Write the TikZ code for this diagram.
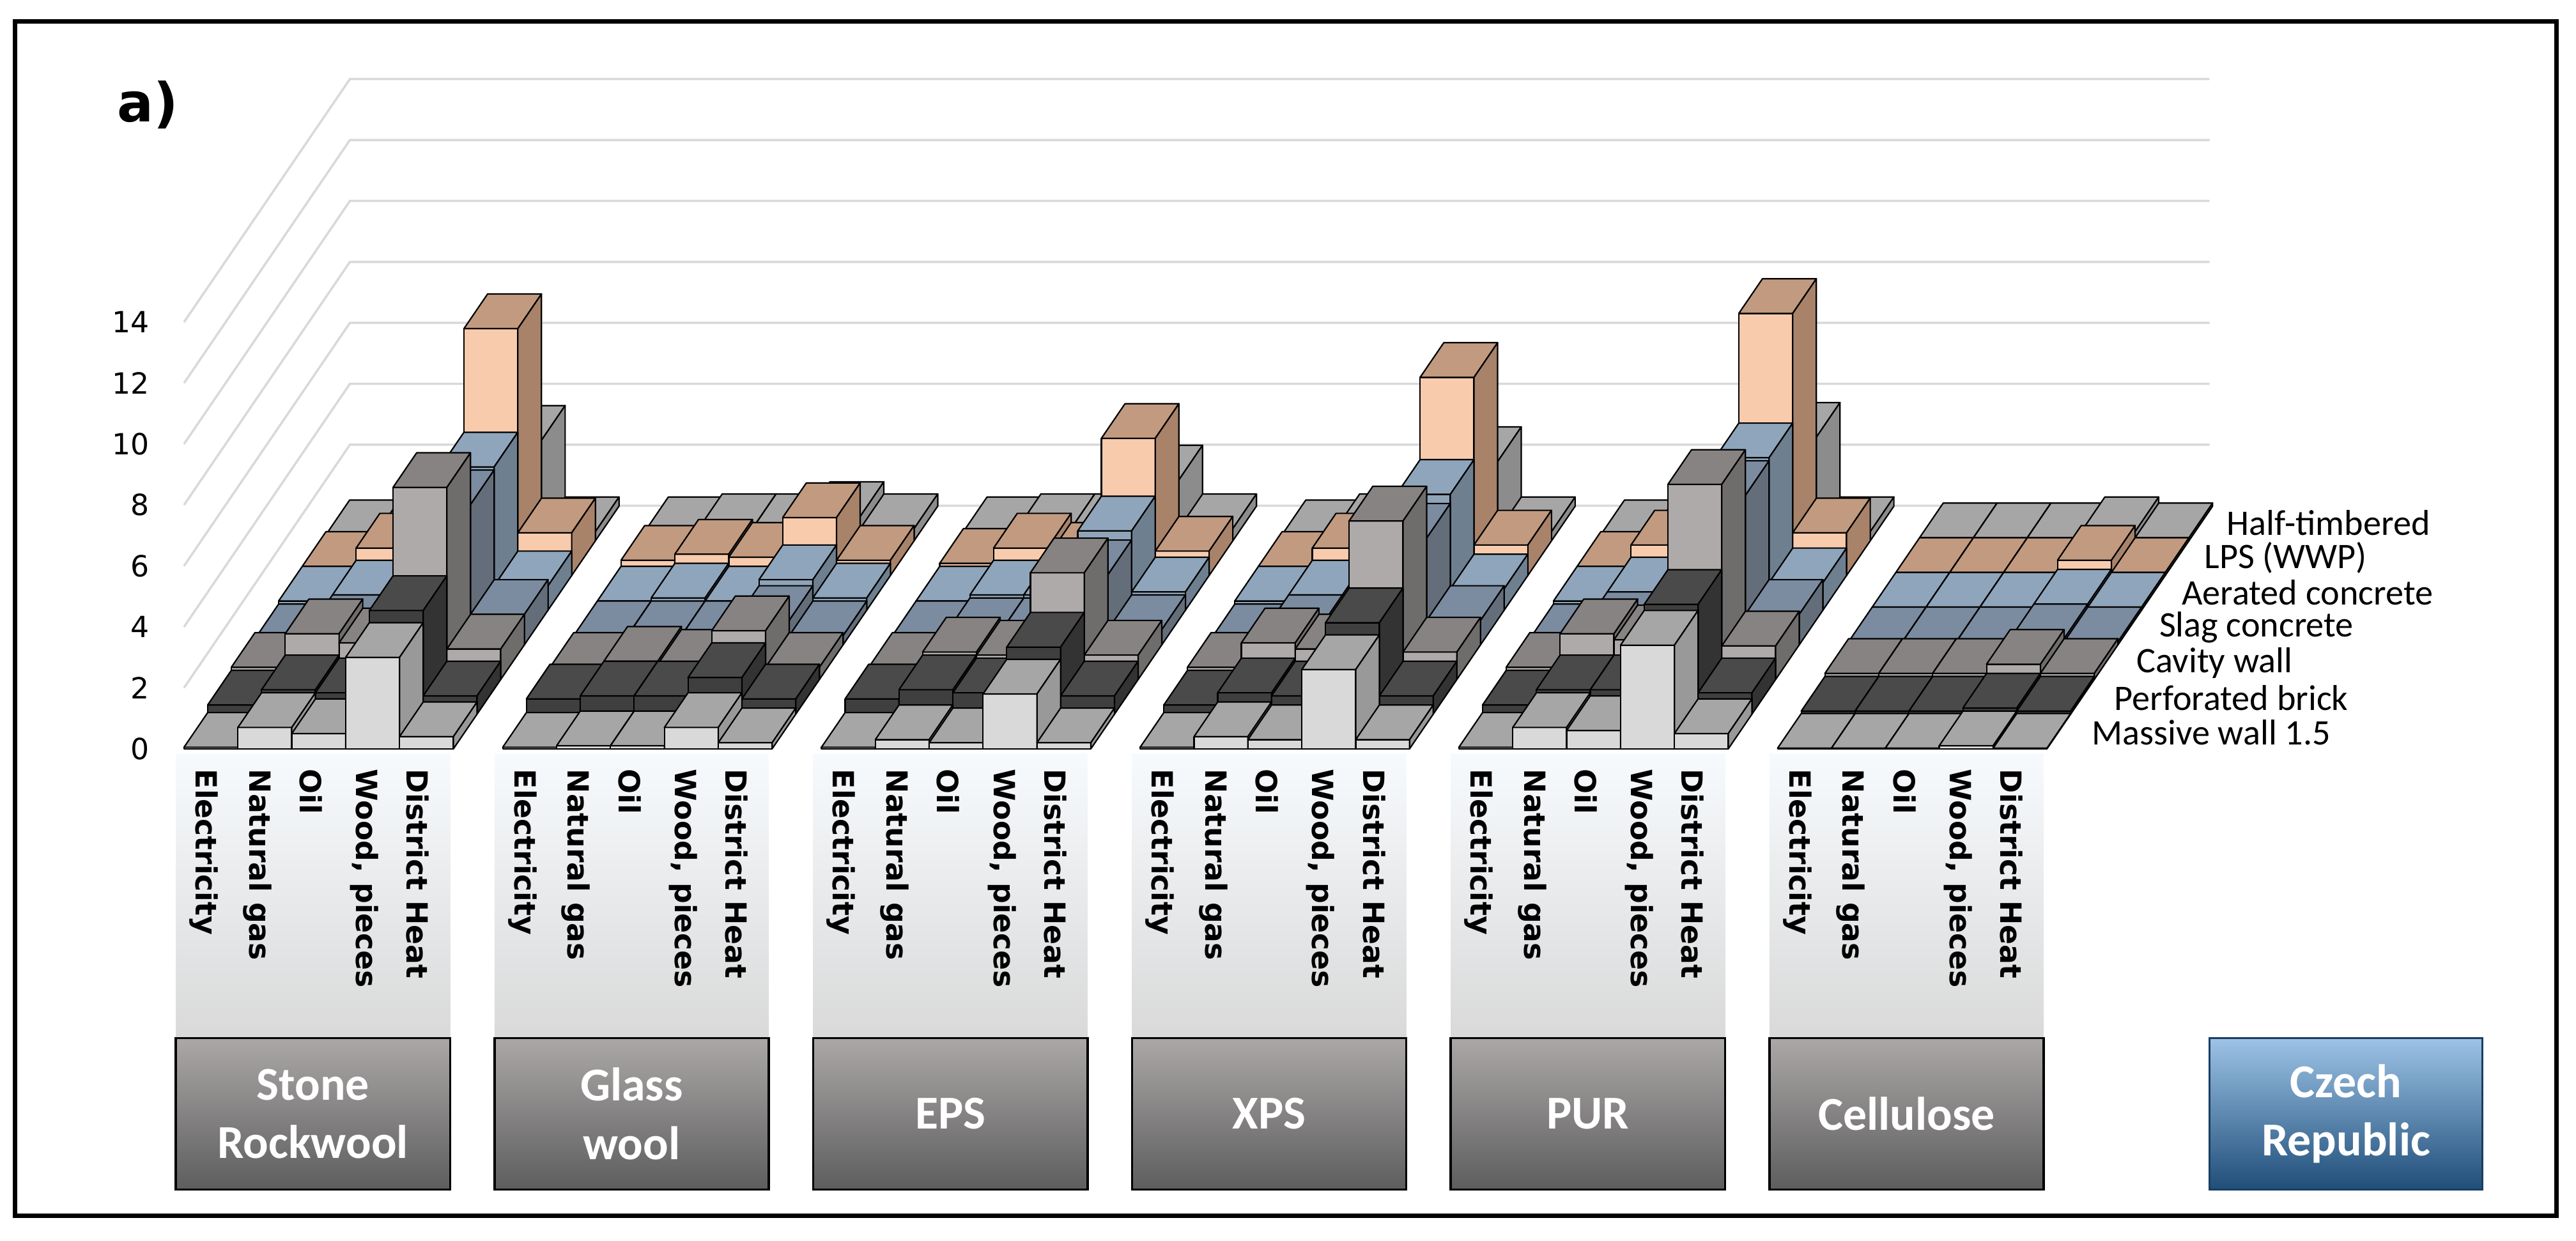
\documentclass[tikz,border=0pt]{standalone}
\usepackage{fontspec}
\setmainfont{Carlito}
\newfontfamily\dvf{DejaVu Sans}
\begin{document}
\begin{tikzpicture}[x=0.2571mm,y=-0.2571mm,
  grid/.style={draw=black!15,line width=0.35mm},
  bar/.style={draw=black,line width=0.22mm,line join=round},
  collab/.style={rotate=-90,anchor=west,font=\dvf\bfseries\fontsize{13}{15}\selectfont,inner sep=0},
  boxlab/.style={text=white,font=\bfseries\fontsize{21}{26}\selectfont,align=center},
  ylab/.style={anchor=east,font=\dvf\fontsize{13}{15}\selectfont,inner sep=0},
  leg/.style={anchor=west,font=\fontsize{16}{18}\selectfont,inner sep=0}]
\definecolor{F0}{HTML}{D9D9D9}\definecolor{T0}{HTML}{A6A6A6}\definecolor{S0}{HTML}{999999}
\definecolor{F1}{HTML}{3F3F3F}\definecolor{T1}{HTML}{4A4A4A}\definecolor{S1}{HTML}{333333}
\definecolor{F2}{HTML}{AEAAAA}\definecolor{T2}{HTML}{878383}\definecolor{S2}{HTML}{6F6C6C}
\definecolor{F3}{HTML}{6F7A88}\definecolor{T3}{HTML}{7B8BA0}\definecolor{S3}{HTML}{646E7B}
\definecolor{F4}{HTML}{8FA4B8}\definecolor{T4}{HTML}{8FA5BB}\definecolor{S4}{HTML}{6E7F90}
\definecolor{F5}{HTML}{F8CBAD}\definecolor{T5}{HTML}{C19A80}\definecolor{S5}{HTML}{A8836A}
\definecolor{F6}{HTML}{C8C8C8}\definecolor{T6}{HTML}{A6A6A6}\definecolor{S6}{HTML}{8C8C8C}
\definecolor{boxT}{HTML}{ABA7A7}\definecolor{boxB}{HTML}{5E5E5E}
\definecolor{czT}{HTML}{9DC3E6}\definecolor{czB}{HTML}{1F4E79}
\definecolor{panT}{HTML}{F7FAFD}\definecolor{panB}{HTML}{D9D9D9}
\useasboundingbox (0,0) rectangle (1568,755.3);
\draw[line width=0.7mm] (9,13) rectangle (1556,740);
\node[font=\dvf\bfseries\fontsize{24}{26}\selectfont,anchor=center] (tag) at (90,64) {a)};
% back wall grid
\foreach \k in {0,...,7}{
  \draw[grid] (112,455.8-37.1*\k) -- (213,307.8-37.1*\k) -- (1345,307.8-37.1*\k);
  \pgfmathtruncatemacro\lab{2*\k}
  \node[ylab] (y\k) at (91,455.8-37.1*\k) {\lab};
}
% data: group, row (front to back), column
\def\data{{0.05,0.7,0.5,3.0,0.4, 0.3,0.8,0.7,3.4,0.6, 0.4,1.5,1.2,6.3,1.0, 0.2,0.5,0.5,4.6,1.0, 0.3,0.5,0.6,4.7,0.8, 0.3,0.9,0.5,8.1,1.4, 0.2,0.4,0.3,3.3,0.3,
0.05,0.1,0.1,0.7,0.2, 0.5,0.6,0.6,1.2,0.5, 0.4,0.6,0.5,1.6,0.4, 0.3,0.3,0.3,0.8,0.3, 0.3,0.4,0.3,1.0,0.4, 0.5,0.7,0.6,1.9,0.5, 0.3,0.4,0.4,0.8,0.4,
0.05,0.3,0.2,1.8,0.2, 0.5,0.8,0.7,2.2,0.6, 0.4,0.9,0.8,3.5,0.8, 0.3,0.4,0.4,2.3,0.5, 0.3,0.5,0.5,2.6,0.6, 0.4,0.9,0.6,4.5,0.8, 0.3,0.4,0.4,2.0,0.4,
0.05,0.4,0.3,2.6,0.3, 0.3,0.7,0.6,3.0,0.6, 0.4,1.2,1.0,5.2,0.9, 0.2,0.5,0.5,3.5,0.8, 0.3,0.5,0.5,3.8,0.7, 0.3,0.9,0.6,6.5,1.0, 0.2,0.4,0.3,2.6,0.3,
0.05,0.7,0.6,3.4,0.5, 0.3,0.8,0.8,3.6,0.7, 0.4,1.5,1.3,6.4,1.1, 0.2,0.6,0.6,4.9,1.0, 0.3,0.6,0.6,5.0,0.9, 0.3,1.0,0.6,8.6,1.4, 0.2,0.4,0.3,3.4,0.3,
0.02,0.02,0.02,0.1,0.02, 0.1,0.1,0.1,0.2,0.1, 0.2,0.2,0.2,0.5,0.2, 0.1,0.1,0.1,0.2,0.1, 0.1,0.1,0.1,0.2,0.1, 0.1,0.1,0.1,0.5,0.1, 0.1,0.1,0.1,0.3,0.1}}
\foreach \r in {6,...,0}{
 \foreach \g in {0,...,5}{
  \foreach \c in {0,...,4}{
   \pgfmathsetmacro\v{\data[\g*35+\r*5+\c]}
   \pgfmathsetmacro\X{112+194*\g+32.8*\c+14.4*\r}
   \pgfmathsetmacro\Y{455.8-21.1*\r}
   \pgfmathsetmacro\H{18.55*\v}
   \draw[bar,fill=F\r] (\X,\Y) rectangle ++(32.8,-\H);
   \draw[bar,fill=T\r] (\X,\Y-\H) -- ++(32.8,0) -- ++(14.4,-21.1) -- ++(-32.8,0) -- cycle;
   \draw[bar,fill=S\r] (\X+32.8,\Y) -- ++(0,-\H) -- ++(14.4,-21.1) -- ++(0,\H) -- cycle;
 }}}
% legend
\foreach \t [count=\i from 0] in {Massive wall 1.5,Perforated brick,Cavity wall,Slag concrete,Aerated concrete,LPS (WWP),Half-timbered}
  \node[leg] (leg\i) at (1273+13.7*\i,446-21.3*\i) {\t};
% label panels, column labels and boxes
\foreach \g/\name [count=\i from 0] in {0/{Stone\\Rockwool},1/{Glass\\wool},2/{EPS},3/{XPS},4/{PUR},5/{Cellulose}}{
  \pgfmathsetmacro\xa{107+194*\g}
  \shade[top color=panT,bottom color=panB] (\xa,459) rectangle (\xa+167,632);
  \foreach \t [count=\c from 0] in {Electricity,Natural gas,Oil,{Wood, pieces},District Heat}
    \node[collab] (c\g\c) at (\xa+17+32.6*\c,468) {\t};
  \draw[line width=0.35mm,top color=boxT,bottom color=boxB] (\xa,632) rectangle (\xa+167,724);
  \node[boxlab] (m\g) at (\xa+83.5,678) {\name};
}
\draw[line width=0.35mm,draw=czB!80!black,top color=czT,bottom color=czB] (1345,632) rectangle (1511,724);
\node[boxlab] (cz) at (1428,678) {Czech\\Republic};
\end{tikzpicture}
\end{document}
